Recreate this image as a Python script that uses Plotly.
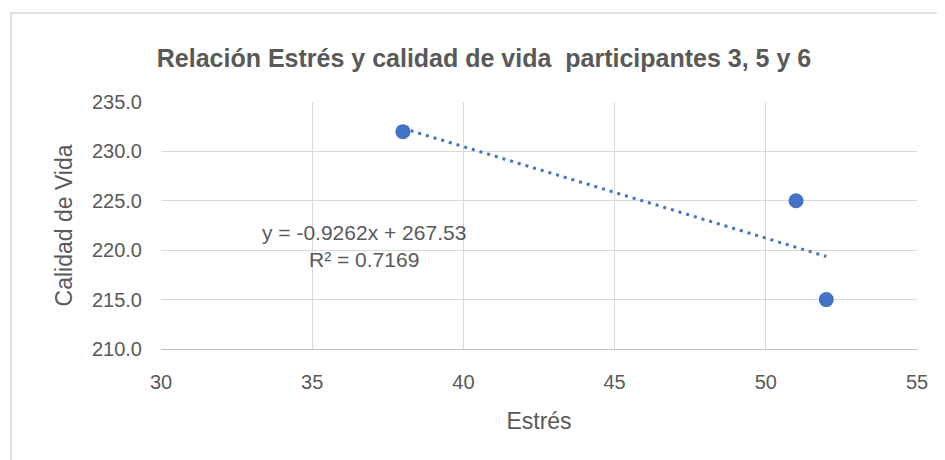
import numpy as np
import plotly.graph_objects as go

# datos
estres = [38, 51, 52]
calidad_vida = [232, 225, 215]
x_ticks = [30, 35, 40, 45, 50, 55]
y_ticks = [210, 215, 220, 225, 230, 235]

AZUL = "#4472C4"
GRIS_TXT = "#595959"
FUENTE = "Liberation Sans"

# línea de tendencia lineal (mínimos cuadrados)
pend, inter = np.polyfit(estres, calidad_vida, 1)
r = np.corrcoef(estres, calidad_vida)[0, 1]
x_line = np.array([min(estres), max(estres)], dtype=float)
y_line = pend * x_line + inter

fig = go.Figure()
fig.add_trace(
    go.Scatter(
        x=x_line,
        y=y_line,
        mode="lines",
        line=dict(color=AZUL, width=3, dash="3px,5px"),
        showlegend=False,
        hoverinfo="skip",
    )
)
fig.add_trace(
    go.Scatter(
        x=estres,
        y=calidad_vida,
        mode="markers",
        marker=dict(color=AZUL, size=15),
        showlegend=False,
    )
)

fig.add_annotation(
    x=36.7,
    y=220.4,
    xref="x",
    yref="y",
    text=f"y = {pend:.4f}x + {inter:.2f}<br>R² = {r**2:.4f}",
    showarrow=False,
    align="center",
    font=dict(family=FUENTE, size=21, color=GRIS_TXT),
)

# marco del área del gráfico
fig.add_shape(
    type="rect",
    xref="paper",
    yref="paper",
    x0=(11 - 161) / 756,
    x1=1.2,
    y0=-1.0,
    y1=(349 - 13) / 247,
    line=dict(color="#d9d9d9", width=1.5),
    fillcolor="rgba(0,0,0,0)",
    layer="below",
)

fig.update_xaxes(
    range=[30, 55],
    tickvals=x_ticks,
    ticktext=[str(v) for v in x_ticks],
    showgrid=True,
    gridcolor="#d9d9d9",
    gridwidth=1,
    zeroline=False,
    showline=True,
    linecolor="#bfbfbf",
    linewidth=1,
    ticks="",
    ticklabelstandoff=15,
    automargin=False,
    tickfont=dict(family=FUENTE, size=20, color=GRIS_TXT),
    title=dict(text="Estrés", font=dict(family=FUENTE, size=23, color=GRIS_TXT), standoff=20),
)
fig.update_yaxes(
    range=[210, 235],
    tickvals=y_ticks,
    ticktext=[f"{v:.1f}" for v in y_ticks],
    showgrid=True,
    gridcolor="#d9d9d9",
    gridwidth=1,
    zeroline=False,
    showline=False,
    ticks="",
    ticklabelstandoff=18,
    automargin=False,
    tickfont=dict(family=FUENTE, size=20, color=GRIS_TXT),
    title=dict(text="Calidad de Vida", font=dict(family=FUENTE, size=23, color=GRIS_TXT), standoff=12),
)
fig.update_layout(
    width=937,
    height=452,
    title=dict(
        text="<b>Relación Estrés y calidad de vida  participantes 3, 5 y 6</b>",
        x=476 / 937,
        xanchor="center",
        y=1 - 50 / 452,
        yanchor="middle",
        font=dict(family=FUENTE, size=25, color=GRIS_TXT),
    ),
    plot_bgcolor="white",
    paper_bgcolor="white",
    margin=dict(l=153, r=28, t=94, b=111),
    showlegend=False,
)

fig.write_html("out.html")
